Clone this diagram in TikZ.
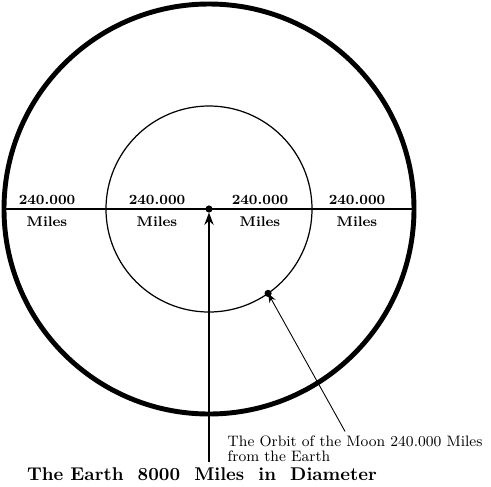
\documentclass[tikz,border=0pt]{standalone}
\usepackage{fontspec}
\usepackage{tikz}
\usetikzlibrary{arrows.meta, positioning, calc}

\begin{document}
\begin{tikzpicture}[>=Stealth, thick]
        \useasboundingbox (-4.18,-5.54) rectangle (5.64,4.18);
        % Earth centre
        \coordinate (centre) at (0,0);
        % Orbit of the Earth seen from the Moon
        \draw [line width=2.8pt] (centre) circle (4.10);
        % Orbit of the Moon
        \draw [line width=0.7pt] (centre) circle (2.06);
        % Diameter line
        \draw [line width=0.8pt] (-4.10,0) -- (4.10,0);
        % Distance labels
        \foreach \xpos [count=\i] in {-3.24,-1.04,1.02,2.96} {
            \node [above=1pt, inner sep=1pt, font=\fontsize{8}{9}\selectfont\bfseries] (dist\i) at (\xpos,0) {240.000};
            \node [below=3pt, inner sep=1pt, font=\fontsize{8}{9}\selectfont\bfseries] (miles\i) at (\xpos,0) {Miles};
        }
        % Earth and Moon
        \filldraw [black] (centre) circle (1.6pt);
        \filldraw [black] (-55:2.06) circle (1.6pt) coordinate (moon);
        % Captions
        \node [anchor=north west, align=left, inner sep=0pt, font=\fontsize{8.6}{8.2}\selectfont] (orbitcap) at (0.36,-4.53)
            {The Orbit of the Moon 240.000 Miles\\from the Earth};
        \node [inner sep=0pt, font=\fontsize{10.5}{12}\selectfont\bfseries\addfontfeatures{LetterSpace=14}] (earthcap) at (-0.14,-5.31)
            {The Earth\ \ 8000\ \ Miles\ \ in\ \ Diameter};
        % Pointers
        \draw [->, line width=0.9pt] ($(earthcap.north -| centre)+(0,0.1)$) -- ($(centre)+(0,-0.07)$);
        \draw [->, line width=0.5pt] ($(orbitcap.north)+(-0.2,0.08)$) -- (moon);
    \end{tikzpicture}
\end{document}
